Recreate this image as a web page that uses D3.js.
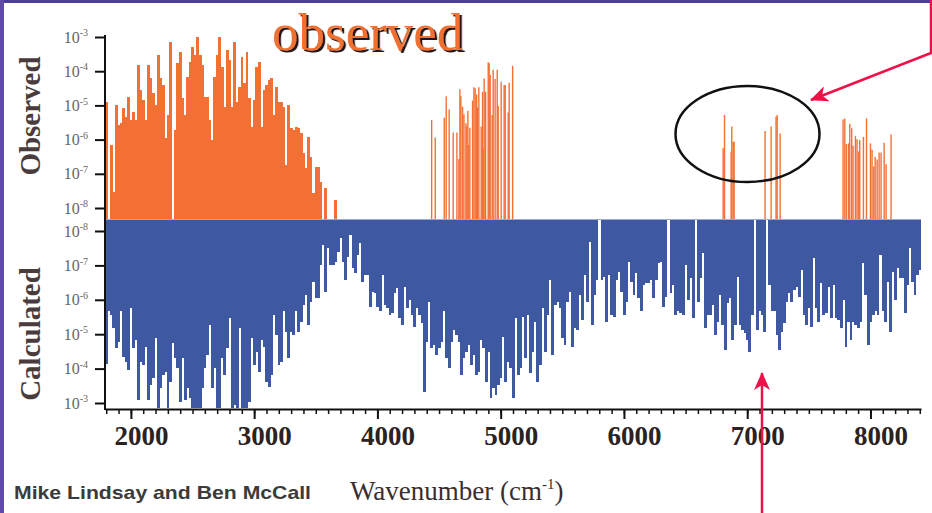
<!DOCTYPE html>
<html>
<head>
<meta charset="utf-8">
<script src="https://cdn.jsdelivr.net/npm/d3@7"></script>
<style>
  body { margin: 0; background: #fff; }
  svg { display: block; }
</style>
</head>
<body>
<div id="chart"></div>
<script>
// grid of the sampled spectra (cm-1)
const step = 20;
const calcStart = 1790;
const obsStart = 1790;

// calculated intensities, log10, one per 20 cm-1 from 1790 (null = no line)
const calcLog = [
  -4.13, -5.66, -5.56, -5.17, -4.59, -4.78, -5.66, -4.35, -4.20, -3.96,
  -5.75, -4.59, -4.83, -3.09, -4.20, -4.10, -4.64, -3.09, -3.52, -3.72,
  -4.88, -2.85, -3.43, -3.81, -3.91, -2.85, -3.62, -4.73, -4.30, -4.01,
  -3.04, -4.30, -3.09, -3.43, -3.14, -2.85, -2.85, -2.85, -2.85, -3.43,
  -4.01, -4.40, -5.27, -3.43, -4.01, -2.85, -2.85, -4.30, -3.81, -4.59,
  -5.46, -2.85, -2.94, -2.85, -5.17, -2.85, -2.85, -2.85, -3.04, -4.88,
  -4.10, -4.49, -3.91, -4.83, -4.64, -3.62, -3.47, -3.81, -5.56, -4.98,
  -4.10, -4.20, -5.66, -5.07, -4.30, -5.07, -4.98, -5.66, -5.07, -5.36,
  -5.85, -6.14, -5.27,
  -5.95, -6.53, -6.04, -6.04, -7.01, -7.59, -6.24, -7.50, -7.01, -7.01,
  -7.11, -7.40, -7.79, -7.11, -6.58, -7.25, -7.88, -6.91, -6.77, -7.30,
  -7.64, -6.53, -6.72, -6.72, -5.80, -6.24, -6.19, -5.80, -5.66, -6.72,
  -5.85, -5.75, -5.56, -5.61, -6.19, -6.33, -5.46, -5.27, -6.38, -5.75,
  -5.99, -5.56, -5.22, -5.75, -5.56, -5.32, -3.33, -4.78, -5.95, -4.59,
  -4.69, -4.40, -4.59, -4.78, -5.66, -4.30, -4.01, -4.78, -5.12, -4.98,
  -4.78, -3.81, -4.30, -4.49, -4.69, -4.10, -4.40, -3.81, -3.91, -4.83,
  -4.59, -3.62, -4.49, -3.14, -3.43, -3.23, -3.52, -3.72, -4.93, -3.62,
  -4.20, -4.01, -3.14, -5.46,
  -3.81, -4.01, -5.51, -4.30, -5.56, -3.86, -4.49, -5.36, -3.62, -4.10,
  -5.75, -4.49, -5.56, -6.58, -4.40, -5.85, -5.95, -5.75, -4.88, -4.69,
  -5.95, -6.24, -4.64, -5.17, -5.12, -6.14, -5.41, -6.72, -5.95, -7.69,
  -5.27, -6.14, -6.58, null, -6.58, -6.67, -5.36, -6.72, -5.56, -5.51,
  -6.58, -6.82, -6.24, -5.56, -5.95, -7.11, -6.53, -6.14, -6.77, -6.04,
  -5.66, -6.43, -6.48, -6.48, -6.58, -6.04, -6.58, -7.06, -7.11, -5.80,
  -6.09, null, -6.19, -6.43, -5.56, -5.66, -5.61, -5.56, -7.01, -5.99,
  -6.62, -5.46, null, -5.95, -6.62, -7.35, -5.17, -5.56, -5.56, -5.85,
  -4.98, -5.36,
  -6.14, -5.27, -4.54, -5.90, -6.04, -4.83, -5.27, -6.67, -5.27, -5.12,
  -5.03, -4.83, -4.49, -5.56, null, -5.12, -5.66, -5.56, -5.07, null,
  -6.43, -5.66, -5.66, -4.98, -4.54, -5.07, -5.32, -5.95, -6.19, -5.95,
  -6.28, -6.38, -6.09, -6.87, -5.56, -5.27, -5.75, -5.22, -7.21, -5.75,
  -5.36, -6.48, -5.56, -5.61, -6.38, -5.46, -6.43, -5.46, -5.41, -5.17,
  -5.99, -4.64, -5.36, -4.83, -5.36, -5.27, -5.17, -5.36, -7.06, -6.14,
  -4.69, -5.36, -5.56, -5.66, -5.56, -7.30, -5.66, -5.36, -6.53, -5.07,
  -6.82, -5.99, -6.91, -6.62, -6.62, -5.61, -6.43, -7.50, -6.53, -6.14,
  -6.72, -6.87
];

// observed 2-3 um band, log10, one per 20 cm-1 from 1790
const obsBandLog = [
  -4.89, null, -6.16, -7.52, -4.99, -5.57, -5.52, -5.09, -5.33, -4.74,
  -5.43, -5.18, -5.43, -3.82, -4.55, -4.84, -5.43, -3.82, -4.21, -4.65,
  -4.99, -3.53, -4.21, -4.40, -5.96, -5.28, -3.14, null, -5.72, -3.77,
  -3.43, -4.79, -5.28, -4.16, -3.72, -3.28, -3.53, -3.00, -3.53, -3.82,
  -4.74, -4.74, -5.43, -6.01, -4.16, -3.53, -3.00, -3.87, -5.04, -3.38,
  -3.67, -5.04, -3.14, -4.89, -4.45, -3.58, -4.35, -3.43, -4.79, -5.62,
  -4.84, -3.87, -3.72, -5.62, -4.55, -4.40, -4.26, -4.21, -5.28, -4.45,
  -4.89, -4.89, -5.04, -6.74, -4.99, -5.67, -5.72, -5.62, -5.67, -5.82,
  -6.40, -6.84, -5.91, -6.50, -7.57, -6.79, -6.79, -7.23, null, -7.42,
  null, null, null, -7.77
];

// observed isolated overtone lines
const obsLineWn = [
  4440, 4469, 4542, 4558, 4582, 4615, 4645, 4661, 4669, 4677,
  4691, 4702, 4718, 4726, 4734, 4742, 4750, 4772, 4783, 4793,
  4805, 4813, 4823, 4842, 4853, 4858, 4866, 4878, 4899, 4907,
  4915, 4931, 4939, 4955, 4972, 4980, 5004, 5028, 5037, 5061,
  5069, 5097,
  6805, 6816, 6870, 6875, 6886, 6894, 7145, 7194, 7234, 7243, 7267,
  7778, 7792, 7805, 7822, 7832, 7848, 7859, 7878, 7891, 7905,
  7913, 7943, 7968, 8000, 8013, 8027, 8038, 8054, 8070, 8086,
  8111, 8127, 8167
];
const obsLineLog = [
  -5.43, -5.94, -5.36, -4.73, -5.12, -5.79, -5.79, -6.57, -4.53, -4.73,
  -5.04, -5.26, -5.52, -5.62, -5.16, -6.16, -5.65, -4.86, -4.47, -4.50,
  -4.68, -5.06, -4.47, -5.62, -4.60, -6.27, -4.21, -4.60, -3.74, -3.77,
  -4.11, -5.28, -3.96, -4.23, -3.96, -5.02, -4.31, -4.40, -4.40, -5.21,
  -4.34, -3.84,
  -6.25, -5.28, -6.35, -5.62, -6.06, -6.06, -5.75, -5.62, -5.33, -5.28, -5.82,
  -5.41, -5.38, -6.13, -6.11, -5.54, -5.67, -6.18, -5.89, -5.99, -6.35,
  -6.01, -5.92, -5.38, -6.11, -6.30, -6.79, -6.50, -6.58, -6.38, -6.38,
  -6.09, -6.72, -5.85
];

const majorTicks = [2000, 3000, 4000, 5000, 6000, 7000, 8000];
const decades = [1e-8, 1e-7, 1e-6, 1e-5, 1e-4, 1e-3];

const W = 932, H = 513;
const base = 219;
const orange = "#f37034";
const blue = "#3e58a2";
const red = "#ee1048";
const serif = "'Liberation Serif', 'Times New Roman', serif";

const svg = d3.select("#chart").append("svg")
    .attr("width", W)
    .attr("height", H);

const defs = svg.append("defs");

const x = d3.scaleLinear().domain([1790, 8410]).range([105, 921]);
const yObs = d3.scaleLog().domain([1e-8, 1e-3]).range([208, 37]);
const yCalc = d3.scaleLog().domain([1e-8, 1e-3]).range([231, 403]);

// slide frame
svg.append("rect").attr("x", 0).attr("y", 0).attr("width", W).attr("height", 3).attr("fill", "#4b3f99");
svg.append("rect").attr("x", 0).attr("y", 0).attr("width", 4).attr("height", H).attr("fill", "#5f4aa6");

// calculated spectrum, hanging down
const calcData = calcLog.map((e, i) => ({wn: calcStart + i * step, e: e}))
    .filter(d => d.e !== null);
svg.append("g")
    .attr("shape-rendering", "crispEdges")
    .selectAll("rect")
    .data(calcData)
    .join("rect")
    .attr("x", d => x(d.wn))
    .attr("y", base)
    .attr("width", d => x(d.wn + step) - x(d.wn) + 0.4)
    .attr("height", d => Math.min(yCalc(Math.pow(10, d.e)), 409) - base)
    .attr("fill", blue);

// observed band
const obsData = obsBandLog.map((e, i) => ({wn: obsStart + i * step, e: e}))
    .filter(d => d.e !== null);
svg.append("g")
    .attr("shape-rendering", "crispEdges")
    .selectAll("rect")
    .data(obsData)
    .join("rect")
    .attr("x", d => x(d.wn))
    .attr("y", d => yObs(Math.pow(10, d.e)))
    .attr("width", d => x(d.wn + step) - x(d.wn) + 0.4)
    .attr("height", d => base - yObs(Math.pow(10, d.e)))
    .attr("fill", orange);

// observed lines
svg.append("g").selectAll("line")
    .data(obsLineWn.map((wn, i) => ({wn: wn, e: obsLineLog[i]})))
    .join("line")
    .attr("x1", d => x(d.wn))
    .attr("x2", d => x(d.wn))
    .attr("y1", base)
    .attr("y2", d => yObs(Math.pow(10, d.e)))
    .attr("stroke", orange)
    .attr("stroke-width", 1.4);

svg.append("line")
    .attr("x1", 105).attr("x2", 921).attr("y1", base + 0.5).attr("y2", base + 0.5)
    .attr("stroke", "#9aa9d6").attr("stroke-width", 1);

// y axes
function logAxis(scale) {
    return d3.axisLeft(scale)
        .tickValues(decades)
        .tickSize(10)
        .tickSizeOuter(0)
        .tickPadding(7)
        .tickFormat(() => "10");
}
[yObs, yCalc].forEach(scale => {
    const g = svg.append("g")
        .attr("transform", "translate(105,0)")
        .call(logAxis(scale));
    g.select(".domain").remove();
    g.selectAll(".tick line").attr("stroke", "#111").attr("stroke-width", 2);
    g.selectAll(".tick text")
        .attr("font-family", serif)
        .attr("font-size", 16)
        .attr("fill", "#666")
        .append("tspan")
        .attr("dy", "-0.65em")
        .attr("font-size", 10)
        .text(d => Math.round(Math.log10(d)));
});
svg.append("line").attr("x1", 105).attr("x2", 105).attr("y1", 35).attr("y2", base)
    .attr("stroke", "#111").attr("stroke-width", 2);
svg.append("line").attr("x1", 105).attr("x2", 105).attr("y1", base).attr("y2", 410)
    .attr("stroke", "#111").attr("stroke-width", 2);

// x axis
const gMinor = svg.append("g")
    .attr("transform", "translate(0,409)")
    .call(d3.axisBottom(x).tickValues(d3.range(1800, 8401, 100)).tickSize(5).tickSizeOuter(0).tickFormat(""));
gMinor.select(".domain").attr("stroke", "#111").attr("stroke-width", 2);
gMinor.selectAll(".tick line").attr("stroke", "#111").attr("stroke-width", 1.5);

const gMajor = svg.append("g")
    .attr("transform", "translate(0,409)")
    .call(d3.axisBottom(x).tickValues(majorTicks).tickSize(10).tickSizeOuter(0).tickPadding(7).tickFormat(d3.format("d")));
gMajor.select(".domain").remove();
gMajor.selectAll(".tick line").attr("stroke", "#111").attr("stroke-width", 2);
gMajor.selectAll(".tick text")
    .attr("dx", 10)
    .attr("font-family", serif)
    .attr("font-weight", "bold")
    .attr("font-size", 27)
    .attr("fill", "#2b2222");

// axis titles
svg.append("text")
    .attr("transform", "translate(40,116) rotate(-90)")
    .attr("text-anchor", "middle")
    .attr("font-family", serif).attr("font-weight", "bold").attr("font-size", 29)
    .attr("fill", "#4a3c3c")
    .text("Observed");
svg.append("text")
    .attr("transform", "translate(40,334) rotate(-90)")
    .attr("text-anchor", "middle")
    .attr("font-family", serif).attr("font-weight", "bold").attr("font-size", 29)
    .attr("fill", "#4a3c3c")
    .text("Calculated");

const xt = svg.append("text")
    .attr("x", 350).attr("y", 500)
    .attr("font-family", serif).attr("font-size", 27)
    .attr("fill", "#3a2e2e");
xt.append("tspan").text("Wavenumber (cm");
xt.append("tspan").attr("dy", -11).attr("font-size", 15).text("-1");
xt.append("tspan").attr("dy", 11).text(")");

svg.append("text")
    .attr("x", 14).attr("y", 499)
    .attr("font-family", "'Liberation Sans', Arial, sans-serif")
    .attr("font-weight", "bold").attr("font-size", 19)
    .attr("textLength", 297).attr("lengthAdjust", "spacingAndGlyphs")
    .attr("fill", "#3b3b3b")
    .text("Mike Lindsay and Ben McCall");

// title with drop shadow
defs.append("filter")
    .attr("id", "shadow")
    .attr("x", "-5%").attr("y", "-10%").attr("width", "110%").attr("height", "130%")
    .append("feDropShadow")
    .attr("dx", 2.2).attr("dy", 2)
    .attr("stdDeviation", 0.4)
    .attr("flood-color", "#231815")
    .attr("flood-opacity", 1);
svg.append("text")
    .attr("x", 272).attr("y", 50)
    .attr("font-family", serif).attr("font-size", 53)
    .attr("fill", "#f07030")
    .attr("filter", "url(#shadow)")
    .text("observed");

// annotations
defs.append("marker")
    .attr("id", "head")
    .attr("markerUnits", "userSpaceOnUse")
    .attr("viewBox", "0 0 18 16")
    .attr("markerWidth", 18).attr("markerHeight", 16)
    .attr("refX", 17).attr("refY", 8)
    .attr("orient", "auto")
    .append("path")
    .attr("d", "M0,0 L18,8 L0,16 L5,8 Z")
    .attr("fill", red);

svg.append("ellipse")
    .attr("cx", 747.5).attr("cy", 134).attr("rx", 72).attr("ry", 48)
    .attr("fill", "none").attr("stroke", "#111").attr("stroke-width", 2.5);

svg.append("path")
    .attr("d", "M931,0 L931,53 L811,100")
    .attr("fill", "none").attr("stroke", red).attr("stroke-width", 2.5)
    .attr("marker-end", "url(#head)");
svg.append("path")
    .attr("d", "M762,513 L762,373")
    .attr("fill", "none").attr("stroke", red).attr("stroke-width", 2.5)
    .attr("marker-end", "url(#head)");
</script>
</body>
</html>
